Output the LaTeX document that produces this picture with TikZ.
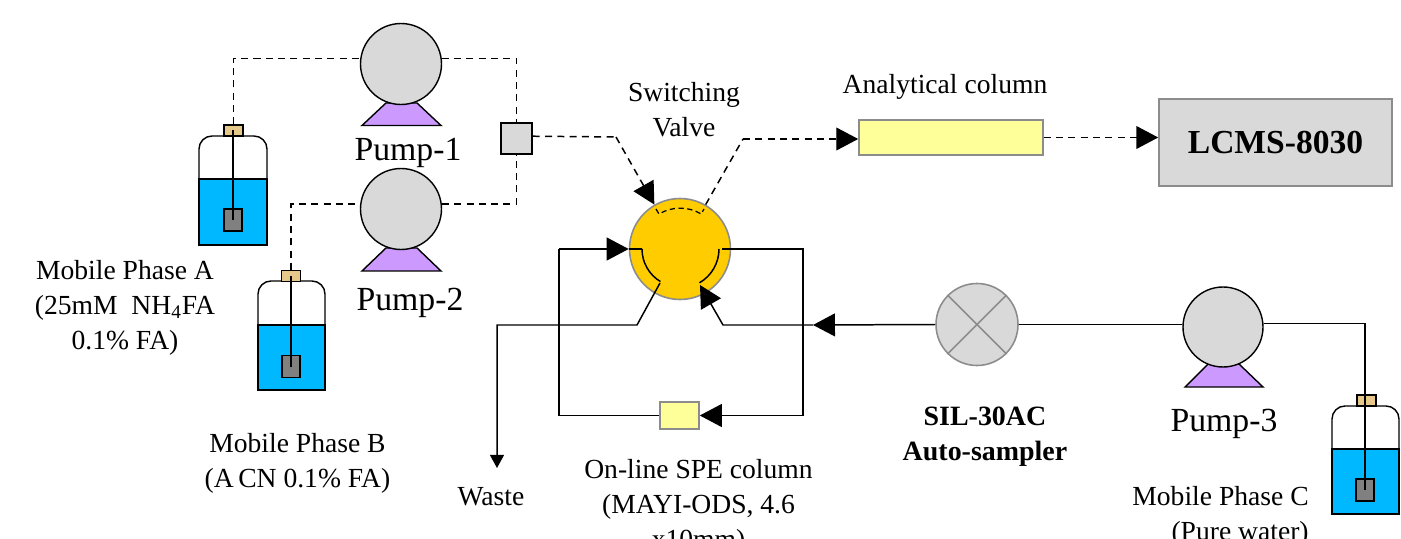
\documentclass[tikz,border=0pt]{standalone}
\usepackage{fontspec}
\setmainfont{Liberation Serif}
\usetikzlibrary{arrows.meta}
\definecolor{pumpgray}{HTML}{D9D9D9}
\definecolor{pumppurple}{HTML}{CC99FF}
\definecolor{watercyan}{HTML}{00B8FF}
\definecolor{capsand}{HTML}{E6C88A}
\definecolor{weightgray}{HTML}{808080}
\definecolor{valveorange}{HTML}{FFCC00}
\definecolor{columnyellow}{HTML}{FFFF99}
\definecolor{edgegray}{HTML}{8C8C8C}
\tikzset{
  pumphead/.style={draw,circle,fill=pumpgray,line width=0.8pt,inner sep=0pt,minimum size=1.62cm},
  pumpbase/.style={draw,fill=pumppurple,line width=0.8pt,line join=miter},
  glass/.style={draw,fill=white,line width=0.8pt,rounded corners=0.26cm},
  water/.style={draw,fill=watercyan,line width=0.8pt},
  bottlecap/.style={draw,fill=capsand,line width=0.7pt,inner sep=0pt,minimum width=0.38cm,minimum height=0.22cm},
  sinker/.style={draw,fill=weightgray,line width=0.8pt,inner sep=0pt,minimum width=0.36cm,minimum height=0.44cm},
  graybox/.style={draw,fill=pumpgray,inner sep=0pt},
  column/.style={draw=edgegray,fill=columnyellow,line width=0.9pt,inner sep=0pt},
  flow/.style={line width=0.85pt},
  flowdash/.style={flow,dash pattern=on 4pt off 3pt},
  bigtip/.style={-{Triangle[length=12.5pt,width=13pt]}},
  smalltip/.style={-{Triangle[length=7.5pt,width=8pt]}},
  lab/.style={font=\fontsize{15.7}{20}\selectfont,align=center,inner sep=0pt},
  pumplab/.style={font=\fontsize{19.2}{23}\selectfont,inner sep=0pt},
  boldlab/.style={font=\fontsize{15.9}{20}\selectfont\bfseries,align=center,inner sep=0pt}
}
\begin{document}
\begin{tikzpicture}
    \useasboundingbox (0,0) rectangle (28.02,10.76);
    \clip (0,0) rectangle (28.02,10.76);

    % pumps
    \draw[pumpbase] (7.24,8.25) -- (7.72,8.70) -- (8.34,8.70) -- (8.82,8.25) -- cycle;
    \node[pumphead] (pump1) at (8.02,9.48) {};
    \node[pumplab] (pump1lab) at (8.16,7.70) {Pump-1};

    \draw[pumpbase] (7.24,5.34) -- (7.72,5.80) -- (8.34,5.80) -- (8.82,5.34) -- cycle;
    \node[pumphead] (pump2) at (8.02,6.58) {};
    \node[pumplab] (pump2lab) at (8.20,4.70) {Pump-2};

    \draw[pumpbase] (23.70,3.02) -- (24.16,3.48) -- (24.78,3.48) -- (25.26,3.02) -- cycle;
    \node[pumphead,minimum size=1.60cm] (pump3) at (24.46,4.22) {};
    \node[pumplab] (pump3lab) at (24.48,2.28) {Pump-3};

    % bottles
    \draw[glass] (3.98,7.18) -- (3.98,8.04) -- (5.34,8.04) -- (5.34,7.18);
    \draw[water] (3.98,5.86) rectangle (5.34,7.18);
    \node[bottlecap] (capA) at (4.67,8.15) {};
    \node[sinker] (sinkA) at (4.66,6.36) {};
    \draw[flow] (capA.center -| sinkA.center) -- (sinkA.center);

    \draw[glass] (5.16,4.26) -- (5.16,5.14) -- (6.50,5.14) -- (6.50,4.26);
    \draw[water] (5.16,2.96) rectangle (6.50,4.26);
    \node[bottlecap] (capB) at (5.82,5.24) {};
    \node[sinker] (sinkB) at (5.82,3.43) {};
    \draw[flow] (capB.center) -- (sinkB.center);

    \draw[glass] (26.64,1.78) -- (26.64,2.64) -- (27.98,2.64) -- (27.98,1.78);
    \draw[water] (26.64,0.48) rectangle (27.98,1.78);
    \node[bottlecap] (capC) at (27.33,2.75) {};
    \node[sinker] (sinkC) at (27.30,0.96) {};

    % boxes
    \node[graybox,line width=0.8pt,minimum size=0.62cm] (mixer) at (10.33,7.99) {};
    \node[column,minimum width=3.68cm,minimum height=0.70cm] (anacol) at (19.02,8.01) {};
    \node[graybox,draw=edgegray,line width=0.9pt,minimum width=4.66cm,minimum height=1.74cm,font=\fontsize{19.1}{23}\selectfont\bfseries] (lcms) at (25.51,7.91) {\raisebox{-1.2pt}{LCMS-8030}};
    \node[column,minimum width=0.78cm,minimum height=0.54cm] (spe) at (13.59,2.45) {};
    \node[draw=edgegray,circle,fill=valveorange,line width=0.9pt,inner sep=0pt,minimum size=2.02cm] (valve) at (13.60,5.78) {};
    \node[draw=edgegray,circle,fill=pumpgray,line width=0.9pt,inner sep=0pt,minimum size=1.64cm] (sampler) at (19.54,4.27) {};
    \draw[edgegray,line width=0.9pt] (sampler.45) -- (sampler.225) (sampler.135) -- (sampler.315);

    % dashed lines, top half
    \coordinate (valvebendin) at (12.32,8.02);
    \coordinate (valvebendout) at (14.86,7.98);
    \draw[flowdash] (capA.north) |- (pump1.172);
    \draw[flowdash] (pump1.8) -| (mixer.north);
    \draw[flowdash] (capB.north) |- (pump2.173);
    \draw[flowdash] (pump2.7) -| (mixer.south);
    \draw[flowdash] (mixer.8) -- (valvebendin);
    \draw[flowdash,bigtip] (valvebendin) -- (valve.120);
    \draw[flowdash] (valve.60) -- (valvebendout);
    \draw[flowdash,bigtip] (valvebendout) -- (valvebendout -| anacol.west);
    \draw[flowdash,bigtip] (anacol.east) -- (anacol.east -| lcms.west);

    % ports inside the valve
    \draw[flow,line width=0.7pt,dash pattern=on 3pt off 2pt] (13.12,6.58) -- (13.18,6.48) arc[start angle=121,end angle=59,radius=0.82] -- (14.08,6.58);
    \draw[flow] (12.84,5.78) arc[start angle=180,end angle=239,radius=0.76];
    \draw[flow] (14.38,5.78) arc[start angle=0,end angle=-60,radius=0.78];

    % solid lines round the valve
    \coordinate (loopltop) at (11.18,5.78);
    \coordinate (looprtop) at (16.06,5.78);
    \coordinate (wastebend) at (12.74,4.26);
    \coordinate (wastecorner) at (9.94,4.26);
    \coordinate (wasteend) at (9.94,1.40);
    \coordinate (samplertip) at (16.26,4.26);
    \coordinate (samplerbend) at (14.46,4.26);
    \coordinate (valvein) at (14.00,5.06);
    \draw[flow] (spe.west) -| (loopltop);
    \draw[flow,bigtip] (loopltop) -- (valve.west);
    \draw[flow] (valve.west) -- (12.84,5.78);
    \draw[flow] (14.44,5.78) -- (looprtop) -- (looprtop |- spe.east) -- (15.9,2.45);
    \draw[flow,bigtip] (15.9,2.45) -- (spe.east);
    \draw[flow,smalltip] (13.20,5.10) -- (wastebend) -- (wastecorner) -- (wasteend);
    \draw[flow,bigtip] (sampler.west) -- (samplertip);
    \draw[flow,bigtip] (samplertip) -- (samplerbend) -- (valvein);
    \draw[flow] (sampler.east) -- (sampler.east -| pump3.west);
    \draw[flow] (pump3.5) -| (sinkC.center);

    % labels
    \node[lab] (valvelab) at (13.68,8.57) {Switching\\Valve};
    \node[lab] (anacollab) at (18.90,9.02) {Analytical column};
    \node[lab] (phaseA) at (2.50,4.60) {Mobile Phase A\\(25mM\ \ NH\textsubscript{4}FA\\0.1\% FA)};
    \node[lab] (phaseB) at (5.95,1.49) {Mobile Phase B\\(A\,CN 0.1\% FA)};
    \node[lab,anchor=east,align=right] (phaseC) at (26.18,0.43) {Mobile Phase C\\(Pure water)};
    \node[lab] (wastelab) at (9.82,0.82) {Waste};
    \node[lab] (spelab) at (13.97,0.62) {On-line SPE column\\(MAYI-ODS, 4.6\\x10mm)};
    \node[boldlab] (samplerlab) at (19.70,2.03) {SIL-30AC\\Auto-sampler};
\end{tikzpicture}
\end{document}
